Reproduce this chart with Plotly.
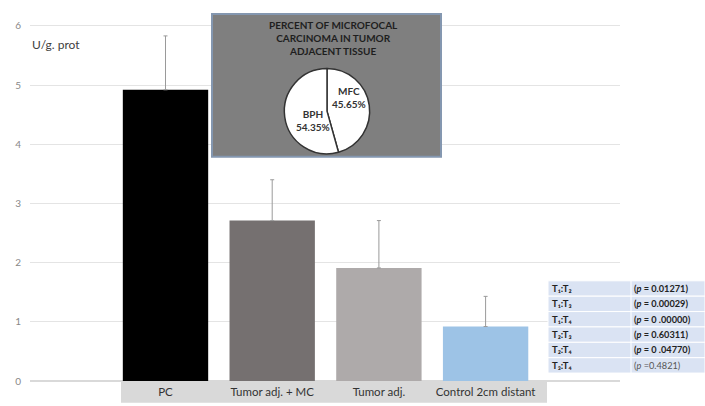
import plotly.graph_objects as go

categories = ["PC", "Tumor adj. + MC", "Tumor adj.", "Control 2cm distant"]
means = [4.92, 2.71, 1.91, 0.92]
sd_upper = [0.91, 0.69, 0.80, 0.51]
bar_colors = ["#000000", "#757070", "#aeaaaa", "#9dc3e6"]

pie_labels = ["MFC", "BPH"]
pie_values = [45.65, 54.35]
pie_title = "PERCENT OF MICROFOCAL<br>CARCINOMA IN TUMOR<br>ADJACENT TISSUE"

comparisons = ["T₁:T₂", "T₁:T₃", "T₁:T₄", "T₂:T₃", "T₂:T₄", "T₃:T₄"]
pvalues = ["0.01271", "0.00029", "0 .00000", "0.60311", "0 .04770", "0.4821"]
significant = [True, True, True, True, True, False]

y_ticks = [0, 1, 2, 3, 4, 5, 6]

W, H = 705, 406
L, R, T, B = 30, 85, 8, 22
PW, PH = W - L - R, H - T - B
UNIT = 358 / 6.0
CAT = 106.7
C0 = 165.5
Y_TOP = PH / UNIT

def px(x):
    return (x - L) / PW

def py(y):
    return (H - B - y) / PH

def dx(x):
    return (x - C0) / CAT

def dy(y):
    return (H - B - y) / UNIT

FONT = "Lato"

fig = go.Figure()
fig.add_trace(go.Bar(
    x=list(range(len(categories))), y=means, width=0.8,
    marker=dict(color=bar_colors, line=dict(width=0)),
    error_y=dict(type="data", symmetric=False, array=sd_upper,
                 arrayminus=[0] * len(means), color="#9a9a9a",
                 thickness=1, width=2),
    showlegend=False, hoverinfo="skip",
))

shapes = []
annotations = []

def note(x, y, text, size, color, xanchor="center", align="center"):
    annotations.append(dict(xref="paper", yref="paper", x=px(x), y=py(y),
                            text=text, showarrow=False, xanchor=xanchor,
                            yanchor="middle", align=align,
                            font=dict(family=FONT, size=size, color=color)))

# category band
shapes.append(dict(type="rect", xref="paper", yref="paper",
                   x0=px(121), x1=px(547), y0=py(406), y1=py(385),
                   fillcolor="#d9d9d9", line=dict(width=0), layer="below"))

# inset panel (above grid, below traces)
shapes.append(dict(type="rect", xref="x", yref="y",
                   x0=dx(212), x1=dx(441), y0=dy(158), y1=dy(14),
                   fillcolor="#7f7f7f", line=dict(color="#8497b0", width=2),
                   layer="between"))
note(333, 38.5, "<b>" + pie_title + "</b>", 10, "#1e1e1e")

fig.add_trace(go.Pie(
    labels=pie_labels, values=pie_values, sort=False, direction="clockwise",
    rotation=0, textinfo="none",
    marker=dict(colors=["#ffffff", "#ffffff"], line=dict(color="#333333", width=1.5)),
    domain=dict(x=[px(283), px(371)], y=[py(155), py(69)]),
    showlegend=False, hoverinfo="skip",
))
note(349, 98, "<b>%s<br>%.2f%%</b>" % (pie_labels[0], pie_values[0]), 10, "#333333")
note(313, 121, "<b>%s<br>%.2f%%</b>" % (pie_labels[1], pie_values[1]), 10, "#333333")

# unit label
note(30, 45, "U/g. prot", 12, "#404040", xanchor="left", align="left")

# p-value table
top, rh = 283, 15.5
for i, (c, p, s) in enumerate(zip(comparisons, pvalues, significant)):
    y0 = top + i * rh
    shapes.append(dict(type="rect", xref="paper", yref="paper",
                       x0=px(548), x1=px(705), y0=py(y0 + rh), y1=py(y0),
                       fillcolor="#dae3f3", line=dict(color="#ffffff", width=1),
                       layer="above"))
    yc = y0 + rh / 2
    note(550, yc, "<b>%s</b>" % c, 9.5, "#222222", xanchor="left", align="left")
    if s:
        note(632, yc, "<b>(<i>p</i> = %s)</b>" % p, 9.2, "#222222",
             xanchor="left", align="left")
    else:
        note(632, yc, "(<i>p</i> =%s)" % p, 9.2, "#555555",
             xanchor="left", align="left")
shapes.append(dict(type="line", xref="paper", yref="paper",
                   x0=px(631), x1=px(631), y0=py(376), y1=py(283),
                   line=dict(color="#ffffff", width=1), layer="above"))

x_lo = dx(L)
x_hi = dx(L + PW)

fig.update_layout(
    width=W, height=H,
    margin=dict(l=L, r=R, t=T, b=B, pad=0),
    paper_bgcolor="white", plot_bgcolor="white",
    font=dict(family=FONT),
    xaxis=dict(range=[x_lo, x_hi], tickmode="array",
               tickvals=list(range(len(categories))), ticktext=categories,
               showgrid=False, zeroline=False, showline=False, ticks="",
               tickfont=dict(family=FONT, size=11.5, color="#333333"),
               ticklabelstandoff=2),
    yaxis=dict(range=[0, Y_TOP], tickmode="array", tickvals=y_ticks,
               showgrid=True, gridcolor="#e4e4e4", gridwidth=1,
               zeroline=True, zerolinecolor="#d9d9d9", showline=False, ticks="",
               tickfont=dict(family=FONT, size=10, color="#888888"),
               ticklabelstandoff=8),
    shapes=shapes, annotations=annotations,
)

post = (
    "document.documentElement.style.margin='0';"
    "document.documentElement.style.overflow='hidden';"
    "document.body.style.margin='0';"
    "document.body.style.padding='0';"
    "document.body.style.overflow='hidden';"
    "document.querySelectorAll('.svg-container').forEach(function(e){e.style.display='block';});"
)

fig.write_html("out.html", config={"displayModeBar": False}, post_script=post)
